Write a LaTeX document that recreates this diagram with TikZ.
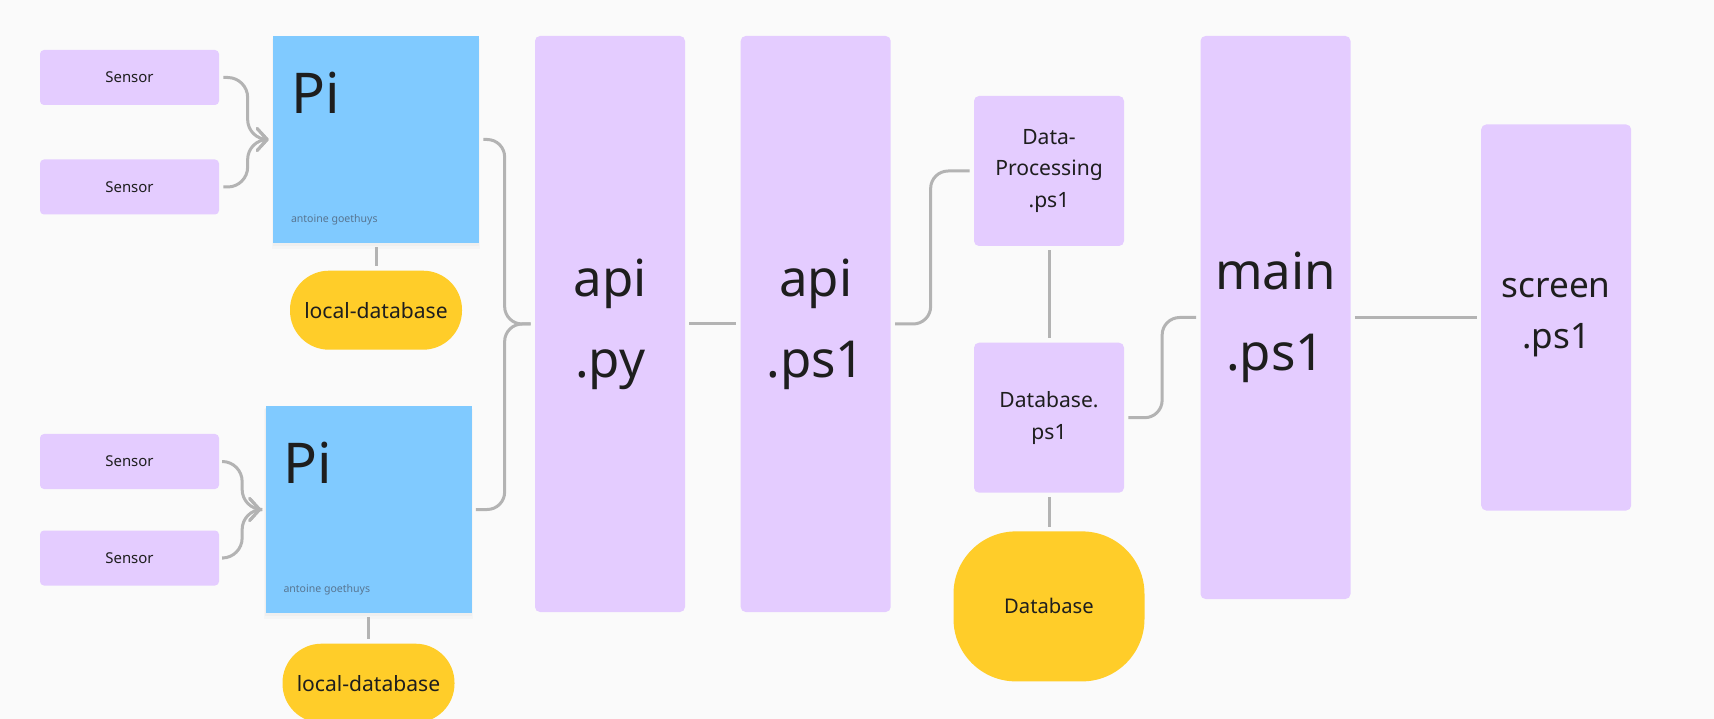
\documentclass[tikz,border=0pt]{standalone}
\usepackage{fontspec}
\setmainfont{Noto Sans}
\usepackage{tikz}
\usetikzlibrary{positioning, calc, arrows.meta, shadows}
\usepackage{xcolor}

\definecolor{lilac}{HTML}{E4CCFF}
\definecolor{piblue}{HTML}{80CAFF}
\definecolor{dbyellow}{HTML}{FFCD29}
\definecolor{wiregray}{HTML}{B3B3B3}
\definecolor{ink}{HTML}{1E1E1E}
\definecolor{paper}{HTML}{FAFAFA}
\definecolor{signgray}{HTML}{587591}

\begin{document}
\begin{tikzpicture} [node distance = 1cm and 1cm,
    sensor/.style={fill=lilac, rounded corners=0.08cm, minimum width=3.58cm, minimum height=1.1cm, text=ink, font=\fontsize{8.5}{10}\selectfont},
    pibox/.style={fill=piblue, minimum width=4.12cm, minimum height=4.14cm,
        drop shadow={opacity=0.04, shadow xshift=0pt, shadow yshift=-2.5pt, shadow scale=1.012},
        drop shadow={opacity=0.05, shadow xshift=0pt, shadow yshift=-1.2pt, shadow scale=1.004}},
    pitext/.style={inner sep=0pt, text=ink, font=\fontsize{32}{36}\selectfont},
    signtext/.style={inner sep=0pt, text=signgray, font=\fontsize{6}{7}\selectfont},
    localdb/.style={fill=dbyellow, rounded corners=0.78cm, minimum width=3.44cm, minimum height=1.58cm, text=ink, font=\fontsize{12}{14}\selectfont},
    tallbox/.style={fill=lilac, rounded corners=0.1cm, minimum width=3cm, align=center, text=ink, font=\fontsize{29}{46}\selectfont},
    smallbox/.style={fill=lilac, rounded corners=0.1cm, minimum width=3cm, minimum height=3cm, align=center, text=ink, font=\fontsize{12}{18}\selectfont},
    bigdb/.style={fill=dbyellow, rounded corners=1.25cm, minimum width=3.82cm, minimum height=3cm, text=ink, font=\fontsize{11.5}{14}\selectfont},
    wire/.style={draw=wiregray, line width=0.06cm, rounded corners=0.35cm, shorten <=0.08cm, shorten >=0.08cm},
    feed/.style={wire, rounded corners=0.4cm, -{Straight Barb[round, length=0.2cm, width=0.44cm]}}]
        \useasboundingbox[fill=paper] (0,0) rectangle (34.28,-14.38);

        % Nodes
        \node[sensor] (sensor1) at (2.59,-1.55) {Sensor};
        \node[sensor] (sensor2) at (2.59,-3.74) {Sensor};
        \node[sensor] (sensor3) at (2.59,-9.23) {Sensor};
        \node[sensor] (sensor4) at (2.59,-11.16) {Sensor};

        \node[pibox] (pi1) at (7.52,-2.79) {};
        \node[pitext, anchor=base west] (pi1name) at ([shift={(0.36cm,-1.56cm)}]pi1.north west) {Pi};
        \node[signtext, anchor=base west] (pi1sign) at ([shift={(0.36cm,0.42cm)}]pi1.south west) {antoine goethuys};
        \node[localdb, below=0.54cm of pi1] (ldb1) {local-database};

        \node[pibox] (pi2) at (7.37,-10.19) {};
        \node[pitext, anchor=base west] (pi2name) at ([shift={(0.36cm,-1.56cm)}]pi2.north west) {Pi};
        \node[signtext, anchor=base west] (pi2sign) at ([shift={(0.36cm,0.42cm)}]pi2.south west) {antoine goethuys};
        \node[localdb, below=0.6cm of pi2] (ldb2) {local-database};

        \node[tallbox, minimum height=11.52cm] (apipy) at (12.2,-6.48) {api\\.py};
        \node[tallbox, minimum height=11.52cm, right=1.1cm of apipy] (apips) {api\\.ps1};

        \node[smallbox] (dataproc) at (20.98,-3.42) {Data-\\Processing\\.ps1};
        \node[smallbox, below=1.92cm of dataproc] (dbps) {Database.\\ps1};
        \node[bigdb, below=0.76cm of dbps] (database) {Database};

        \node[tallbox, minimum height=11.26cm] (mainps) at (25.51,-6.35) {main\\.ps1};
        \node[tallbox, minimum height=7.72cm, right=2.6cm of mainps, font=\fontsize{20}{29}\selectfont] (screenps) {screen\\.ps1};

        % Arrows
        \draw[feed] (sensor1.east) -| ([xshift=-0.5cm]pi1.west) -- (pi1.west);
        \draw[feed] (sensor2.east) -| ([xshift=-0.5cm]pi1.west) -- (pi1.west);
        \draw[feed] (sensor3.east) -| ([xshift=-0.46cm]pi2.west) -- (pi2.west);
        \draw[feed] (sensor4.east) -| ([xshift=-0.46cm]pi2.west) -- (pi2.west);

        % Links
        \draw[wire] (pi1) -- (ldb1);
        \draw[wire] (pi2) -- (ldb2);
        \draw[wire] (pi1.east) -| ([xshift=-0.6cm]apipy.west) -- (apipy.west);
        \draw[wire] (pi2.east) -| ([xshift=-0.6cm]apipy.west) -- (apipy.west);
        \draw[wire] (apipy.east) -- (apips.west);
        \draw[wire] (apips.east) -| ([xshift=-0.86cm]dataproc.west) -- (dataproc.west);
        \draw[wire] (dataproc) -- (dbps);
        \draw[wire] (dbps) -- (database);
        \draw[wire] (dbps.east) -| ([xshift=-0.76cm]mainps.west) -- (mainps.west);
        \draw[wire] (mainps) -- (screenps);
    \end{tikzpicture}
\end{document}
